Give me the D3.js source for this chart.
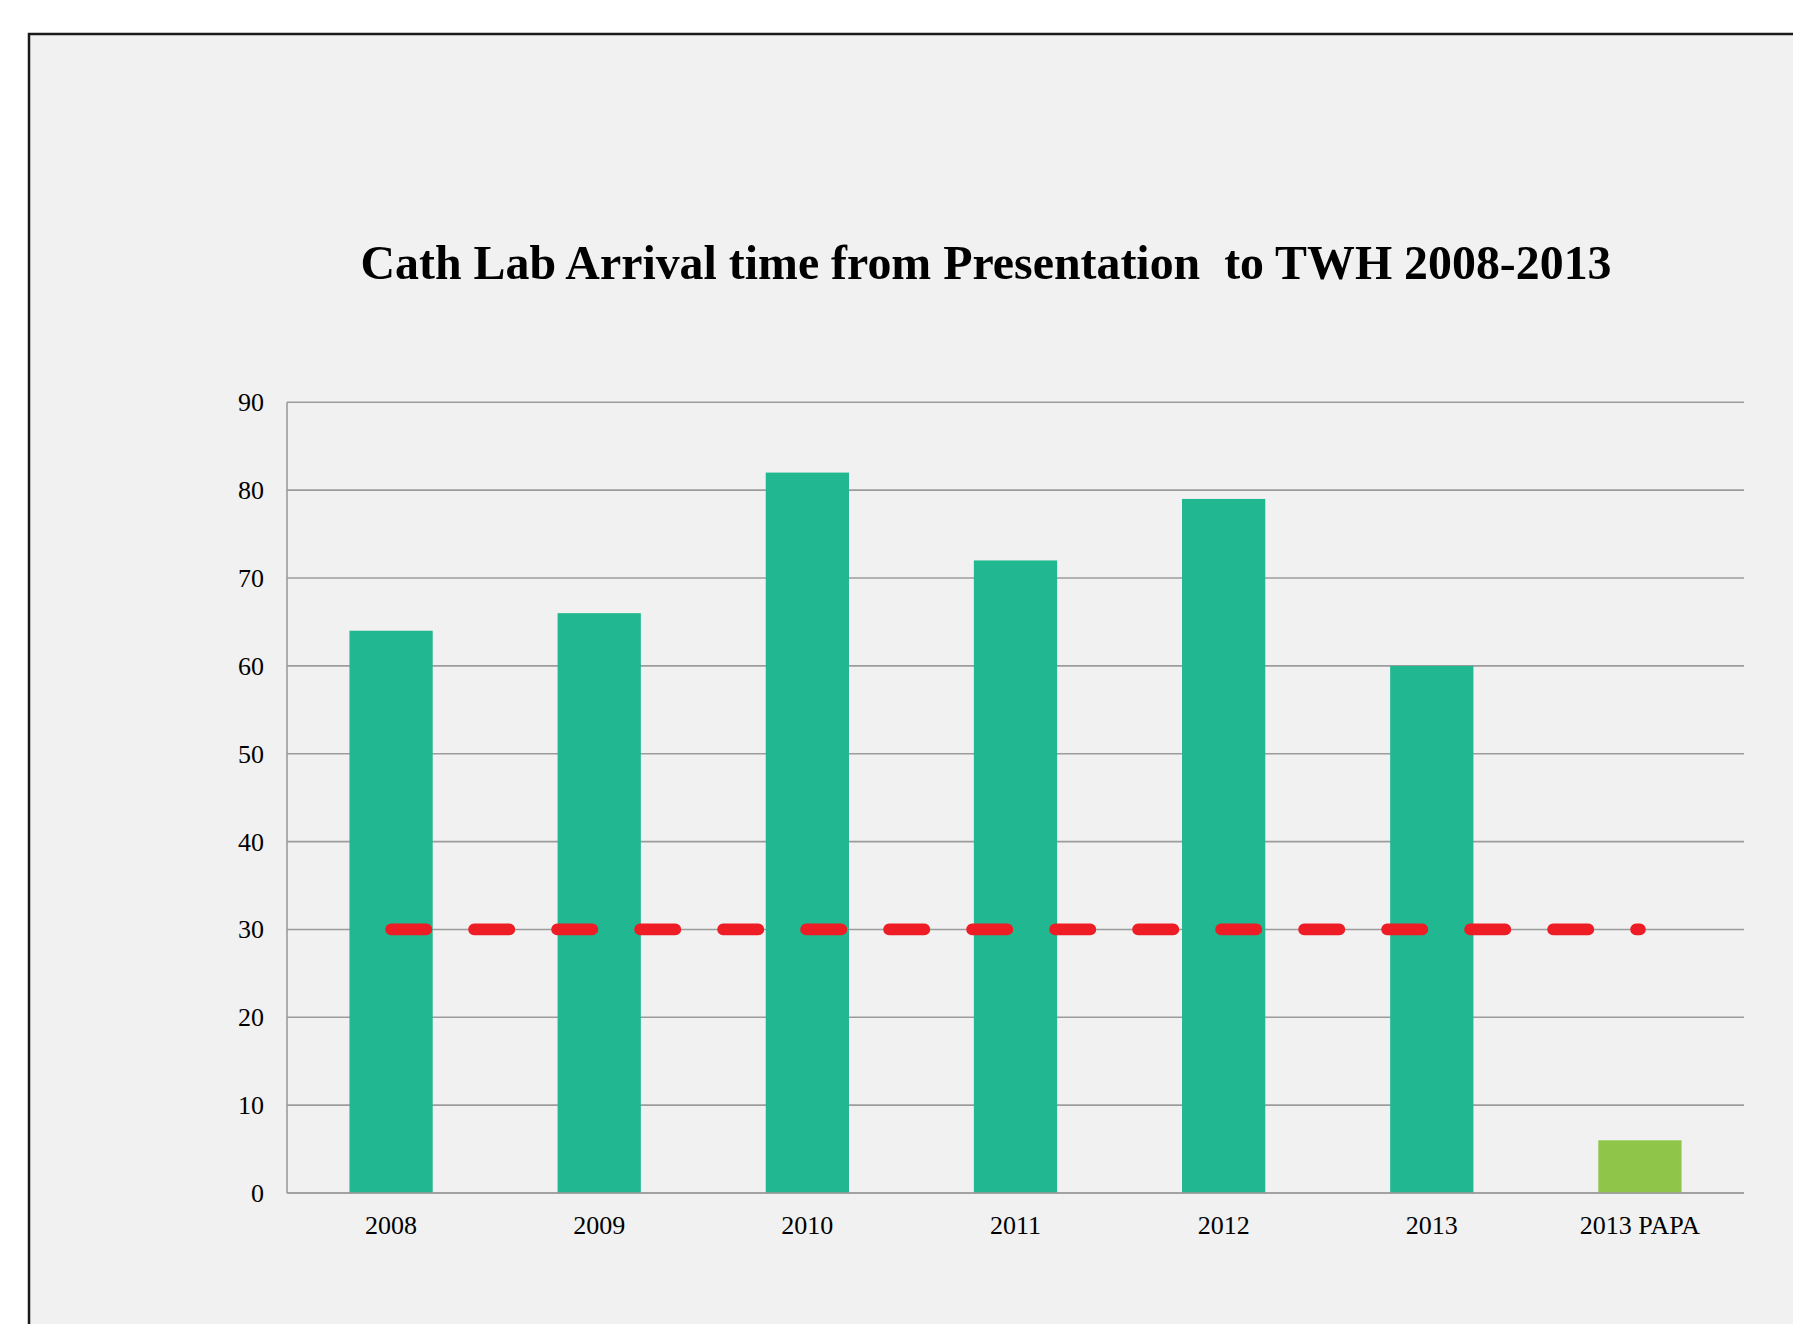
<!DOCTYPE html>
<html>
<head>
<meta charset="utf-8">
<script src="https://cdn.jsdelivr.net/npm/d3@7"></script>
<style>
  html, body { margin: 0; padding: 0; background: #ffffff; }
  svg { display: block; }
  text { font-family: "Liberation Serif", "Times New Roman", serif; fill: #000; }
</style>
</head>
<body>
<svg id="chart" width="1793" height="1324"></svg>
<script>
const categories = ["2008", "2009", "2010", "2011", "2012", "2013", "2013 PAPA"];
const values = [64, 66, 82, 72, 79, 60, 6];
const barColors = ["#21b891", "#21b891", "#21b891", "#21b891", "#21b891", "#21b891", "#8fc649"];
const targetValue = 30;
const yTicks = [0, 10, 20, 30, 40, 50, 60, 70, 80, 90];
const titleText = "Cath Lab Arrival time from Presentation  to TWH 2008-2013";

(function () {
const svg = d3.select("#chart");

// panel background with border (left & top visible)
svg.append("rect")
  .attr("x", 29).attr("y", 34)
  .attr("width", 1900).attr("height", 1400)
  .attr("fill", "#f1f1f1")
  .attr("stroke", "#1a1a1a").attr("stroke-width", 2.5);

const plotLeft = 287, plotRight = 1744, plotTop = 402.3, plotBottom = 1193;

const x = d3.scaleBand().domain(categories).range([plotLeft, plotRight])
  .paddingInner(0.6).paddingOuter(0.3);
const y = d3.scaleLinear().domain([0, 90]).range([plotBottom, plotTop]);

// title
svg.append("text")
  .attr("x", 986).attr("y", 279)
  .attr("text-anchor", "middle")
  .style("font-size", "49px").style("font-weight", "bold")
  .style("white-space", "pre")
  .attr("textLength", 1251).attr("lengthAdjust", "spacingAndGlyphs")
  .text(titleText);

// gridlines
svg.append("g").selectAll("line").data(yTicks).join("line")
  .attr("x1", plotLeft).attr("x2", plotRight)
  .attr("y1", d => y(d)).attr("y2", d => y(d))
  .attr("stroke", "#9c9c9c").attr("stroke-width", 1.6);

// y axis line
svg.append("line")
  .attr("x1", plotLeft).attr("x2", plotLeft).attr("y1", plotTop).attr("y2", plotBottom)
  .attr("stroke", "#9c9c9c").attr("stroke-width", 1.6);

// y tick labels
svg.append("g").selectAll("text").data(yTicks).join("text")
  .attr("x", 264).attr("y", d => y(d) + 9)
  .attr("text-anchor", "end")
  .style("font-size", "26px")
  .text(d => d);

// bars
svg.append("g").selectAll("rect").data(values).join("rect")
  .attr("x", (d, i) => x(categories[i]))
  .attr("width", x.bandwidth())
  .attr("y", d => y(d))
  .attr("height", d => y(0) - y(d))
  .attr("fill", (d, i) => barColors[i]);

// x axis baseline on top of bars
svg.append("line")
  .attr("x1", plotLeft).attr("x2", plotRight).attr("y1", y(0)).attr("y2", y(0))
  .attr("stroke", "#9c9c9c").attr("stroke-width", 1.6);

// category labels
svg.append("g").selectAll("text").data(categories).join("text")
  .attr("x", d => x(d) + x.bandwidth() / 2)
  .attr("y", 1234)
  .attr("text-anchor", "middle")
  .style("font-size", "26px")
  .text(d => d);

// target dashed line
const targetData = categories.map(c => ({ c, v: targetValue }));
const line = d3.line().x(d => x(d.c) + x.bandwidth() / 2).y(d => y(d.v));
svg.append("path")
  .datum(targetData)
  .attr("d", line)
  .attr("fill", "none")
  .attr("stroke", "#ee1c25")
  .attr("stroke-width", 11.7)
  .attr("stroke-linecap", "round")
  .attr("stroke-dasharray", "35.3,47.7");
})();
</script>
</body>
</html>
